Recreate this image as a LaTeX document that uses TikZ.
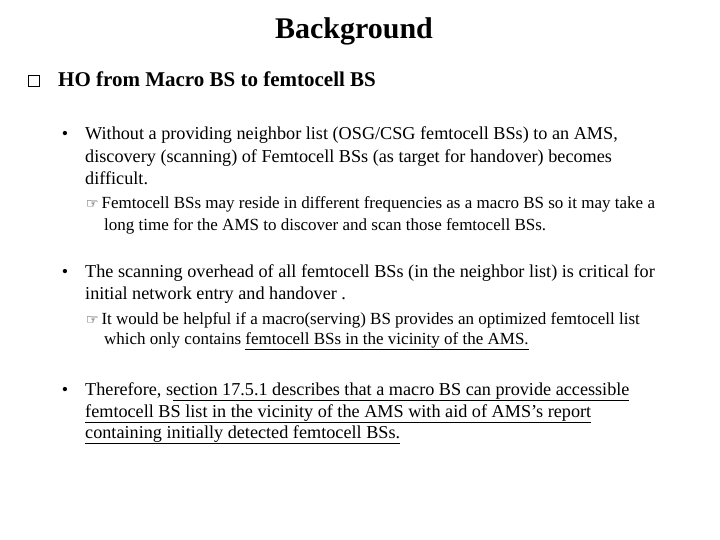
\documentclass[tikz,border=0pt]{standalone}
\usepackage{fontspec}
\setmainfont{Liberation Serif}
\newfontfamily\symf{DejaVu Sans}
\begin{document}
\begin{tikzpicture}[x=1pt,y=-1pt,
  ln/.style={anchor=base west,inner sep=0pt,font=\fontsize{18.2}{20}\selectfont},
  sub/.style={anchor=base west,inner sep=0pt,font=\fontsize{17}{18}\selectfont},
  bul/.style={anchor=base,inner sep=0pt,font=\fontsize{18}{18}\selectfont}]
\useasboundingbox (0,0) rectangle (720,540);
\node[anchor=base,inner sep=0pt,font=\fontsize{30}{32}\selectfont\bfseries] (t) at (354,39) {Background};
\node[draw,line width=1.2pt,minimum size=11pt,inner sep=0pt] (box) at (34,81) {};
\node[ln,font=\fontsize{21}{22}\selectfont\bfseries] (h) at (58,87) {HO from Macro BS to femtocell BS};
\node[bul] (b1) at (65,140) {•};
\node[ln] (l1) at (85,140) {Without a providing neighbor list (OSG/CSG femtocell BSs) to an AMS,};
\node[ln] (l2) at (85,163) {discovery (scanning) of Femtocell BSs (as target for handover) becomes};
\node[ln] (l3) at (85,185) {difficult.};
\node[sub] (s1) at (86,208) {{\symf\fontsize{14}{14}\selectfont ☞}\,Femtocell BSs may reside in different frequencies as a macro BS so it may take a};
\node[sub] (s2) at (104,230) {long time for the AMS to discover and scan those femtocell BSs.};
\node[bul] (b2) at (65,277) {•};
\node[ln] (m1) at (85,277) {The scanning overhead of all femtocell BSs (in the neighbor list) is critical for};
\node[ln] (m2) at (85,299) {initial network entry and handover .};
\node[sub] (t1) at (86,324) {{\symf\fontsize{14}{14}\selectfont ☞}\,It would be helpful if a macro(serving) BS provides an optimized femtocell list};
\node[sub] (t2) at (104,344) {which only contains \underline{femtocell BSs in the vicinity of the AMS.}};
\node[bul] (b3) at (65,395) {•};
\node[ln] (n1) at (85,395) {Therefore, s\underline{ection 17.5.1 describes that a macro BS can provide accessible}};
\node[ln] (n2) at (85,417) {\underline{femtocell BS list in the vicinity of the AMS with aid of AMS’s report}};
\node[ln] (n3) at (85,438) {\underline{containing initially detected femtocell BSs.}};
\end{tikzpicture}
\end{document}
